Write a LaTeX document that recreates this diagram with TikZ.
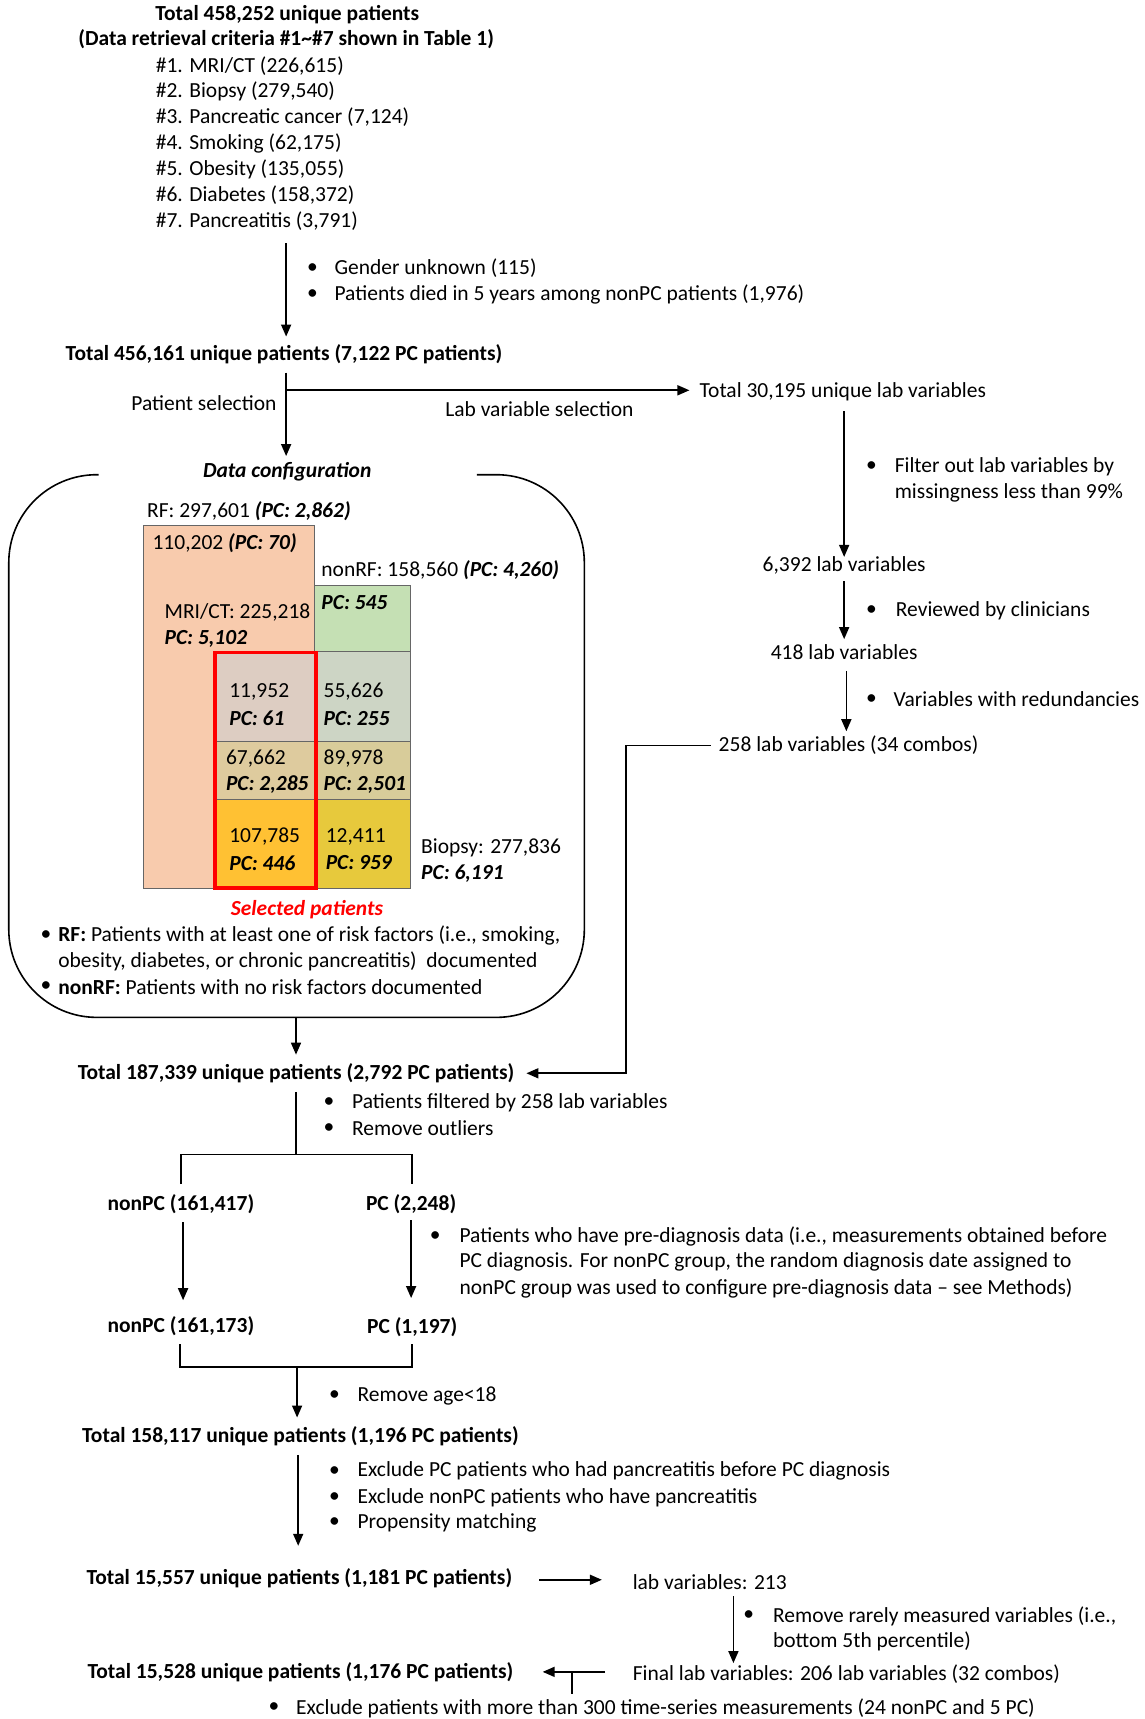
\documentclass[tikz,border=0pt]{standalone}
\usepackage{fontspec}
\setmainfont{Carlito}
\usetikzlibrary{arrows.meta}
\definecolor{salmon}{HTML}{F8CBAD}
\definecolor{lgreen}{HTML}{C5E0B4}
\definecolor{r1l}{HTML}{DDCDC2}
\definecolor{r1r}{HTML}{CDD5C5}
\definecolor{r2l}{HTML}{DECB9E}
\definecolor{r2r}{HTML}{D8CC9A}
\definecolor{r3l}{HTML}{FFC133}
\definecolor{r3r}{HTML}{E7C93C}
\definecolor{selred}{HTML}{FF0000}
\newcommand{\fs}{\fontsize{21.5}{26}\selectfont}
\begin{document}
\begin{tikzpicture}[x=1.0968pt,y=-1.0968pt,
  txt/.style={inner sep=0pt, font=\fs},
  lt/.style={txt, anchor=west},
  bt/.style={inner sep=0pt, font=\fs\bfseries},
  bi/.style={inner sep=0pt, anchor=west, font=\fs\bfseries\itshape},
  ln/.style={line width=1.6pt},
  arr/.style={line width=1.6pt, -{Triangle[length=12pt,width=10pt]}},
  cell/.style={draw=black!60, line width=0.8pt}
]
\useasboundingbox (0,0) rectangle (1044,1568);
\fill[white] (0,0) rectangle (1044,1568);

% ---------- top ----------
\node[bt] (t1) at (262,13) {Total 458,252 unique patients};
\node[bt] (t1b) at (261,36) {(Data retrieval criteria \#1\textasciitilde\#7 shown in Table 1)};
\foreach \t [count=\i] in {{\#1. MRI/CT (226,615)},{\#2. Biopsy (279,540)},{\#3. Pancreatic cancer (7,124)},{\#4. Smoking (62,175)},{\#5. Obesity (135,055)},{\#6. Diabetes (158,372)},{\#7. Pancreatitis (3,791)}}
  \node[lt] (crit\i) at (142,{60+23.6*(\i-1)}) {\t};

\coordinate (a1s) at (261,222);
\coordinate (a1e) at (261,307);
\draw[arr] (a1s) -- (a1e);
\node[txt] (b1a) at (285,245) {•};
\node[lt] (b1at) at (305,245) {Gender unknown (115)};
\node[txt] (b1b) at (285,269) {•};
\node[lt] (b1bt) at (305,269) {Patients died in 5 years among nonPC patients (1,976)};

\node[bt] (t2) at (259,323) {Total 456,161 unique patients (7,122 PC patients)};

% split
\coordinate (s0) at (261,340);
\coordinate (split) at (261,356);
\coordinate (s1) at (261,416);
\draw[arr] (s0) -- (s1);
\node[lt] (lab1) at (638,357) {Total 30,195 unique lab variables};
\draw[arr] (split) -- ([xshift=-10pt]lab1.west |- split);
\node[txt] (psel) at (186,368) {Patient selection};
\node[txt] (lsel) at (492,373) {Lab variable selection};

% ---------- data configuration box ----------
\node[inner sep=0pt, font=\fs\bfseries\itshape] (dcfg) at (262,430) {Data configuration};
\draw[ln, rounded corners=88pt] (90,433) -- (8,433) -- (8,928) -- (533,928) -- (533,433) -- (435,433);

\node[lt] (rf) at (134,466) {RF: 297,601 \textbf{\textit{(PC: 2,862)}}};
\fill[salmon] (131,479) rectangle (287,810);
\draw[cell] (131,479) rectangle (287,810);
\node[lt] (rf0) at (139,495) {110,202 \textbf{\textit{(PC: 70)}}};
\node[lt] (nrf) at (293,520) {nonRF: 158,560 \textbf{\textit{(PC: 4,260)}}};
\fill[lgreen] (287,534) rectangle (374,594);
\draw[cell] (287,534) rectangle (374,594);
\node[bi] (pc545) at (293,550) {PC: 545};
\node[lt] (mri) at (150,559) {MRI/CT: 225,218};
\node[bi] (mripc) at (150,583) {PC: 5,102};

\fill[r1l] (195,594) rectangle (287,676);
\fill[r1r] (287,594) rectangle (374,676);
\fill[r2l] (195,676) rectangle (287,729);
\fill[r2r] (287,676) rectangle (374,729);
\fill[r3l] (195,729) rectangle (287,810);
\fill[r3r] (287,729) rectangle (374,810);
\draw[cell] (195,594) rectangle (374,810);
\draw[cell] (195,676) -- (374,676);
\draw[cell] (195,729) -- (374,729);
\draw[cell] (287,594) -- (287,810);

\node[lt] (c11) at (209,631) {11,952};
\node[bi] (c11p) at (209,655) {PC: 61};
\node[lt] (c12) at (295,631) {55,626};
\node[bi] (c12p) at (295,655) {PC: 255};
\node[lt] (c21) at (206,692) {67,662};
\node[bi] (c21p) at (206,716) {PC: 2,285};
\node[lt] (c22) at (295,692) {89,978};
\node[bi] (c22p) at (295,716) {PC: 2,501};
\node[lt] (c31) at (209,763) {107,785};
\node[bi] (c31p) at (209,787) {PC: 446};
\node[lt] (c32) at (297,763) {12,411};
\node[bi] (c32p) at (297,787) {PC: 959};

\draw[selred, line width=3.6pt] (196,595) rectangle (288,810);

\node[lt] (bio) at (384,773) {Biopsy: 277,836};
\node[bi] (biopc) at (384,797) {PC: 6,191};

\node[inner sep=0pt, text=selred, font=\fs\bfseries\itshape] (selp) at (280,830) {Selected patients};

\node[txt] (lg1) at (42,853) {•};
\node[lt] (lg1t) at (53,853) {\textbf{RF:} Patients with at least one of risk factors (i.e., smoking,};
\node[lt] (lg1u) at (53,877) {obesity, diabetes, or chronic pancreatitis)\ \ documented};
\node[txt] (lg2) at (42,900) {•};
\node[lt] (lg2t) at (53,900) {\textbf{nonRF:} Patients with no risk factors documented};

% ---------- lab variable chain ----------
\coordinate (l1s) at (770,375);
\coordinate (l1e) at (770,508);
\draw[arr] (l1s) -- (l1e);
\node[txt] (lb1) at (795,426) {•};
\node[lt] (lb1t) at (816,426) {Filter out lab variables by};
\node[lt] (lb1u) at (816,450) {missingness less than 99\%};
\node[txt] (lab2) at (770,516) {6,392 lab variables};
\coordinate (l2s) at (770,530);
\coordinate (l2e) at (770,583);
\draw[arr] (l2s) -- (l2e);
\node[txt] (lb2) at (795,557) {•};
\node[lt] (lb2t) at (817,557) {Reviewed by clinicians};
\node[txt] (lab3) at (770,595) {418 lab variables};
\coordinate (l3s) at (772,612);
\coordinate (l3e) at (772,667);
\draw[arr] (l3s) -- (l3e);
\node[txt] (lb3) at (795,638) {•};
\node[lt] (lb3t) at (815,638) {Variables with redundancies};
\node[txt] (lab4) at (774,680) {258 lab variables (34 combos)};

% ---------- merge ----------
\coordinate (m0) at (270,928);
\coordinate (m1) at (270,962);
\draw[arr] (m0) -- (m1);
\node[bt] (t3) at (270,979) {Total 187,339 unique patients (2,792 PC patients)};
\coordinate (k1) at (571,680);
\coordinate (k2) at (571,979);
\draw[arr] ([xshift=-8pt]lab4.west) -- (k1) -- (k2) -- ([xshift=12pt]t3.east |- k2);

% ---------- branch ----------
\coordinate (b0) at (270,996);
\coordinate (bj) at (270,1053);
\coordinate (bl) at (165,1053);
\coordinate (br) at (376,1053);
\coordinate (bl2) at (165,1080);
\coordinate (br2) at (376,1080);
\draw[ln] (b0) -- (bj);
\draw[ln] (bl2) -- (bl) -- (br) -- (br2);
\node[txt] (fb1) at (300,1006) {•};
\node[lt] (fb1t) at (321,1006) {Patients filtered by 258 lab variables};
\node[txt] (fb2) at (300,1029) {•};
\node[lt] (fb2t) at (321,1029) {Remove outliers};

\node[bt] (np1) at (165,1098) {nonPC (161,417)};
\node[bt] (pc1) at (375,1098) {PC (2,248)};
\coordinate (n1s) at (167,1115);
\coordinate (n1e) at (167,1186);
\coordinate (p1s) at (375,1113);
\coordinate (p1e) at (375,1184);
\draw[arr] (n1s) -- (n1e);
\draw[arr] (p1s) -- (p1e);
\node[txt] (pb) at (397,1128) {•};
\node[lt] (pbt1) at (419,1128) {Patients who have pre-diagnosis data (i.e., measurements obtained before};
\node[lt] (pbt2) at (419,1151) {PC diagnosis. For nonPC group, the random diagnosis date assigned to};
\node[lt] (pbt3) at (419,1175) {nonPC group was used to configure pre-diagnosis data -- see Methods)};
\node[bt] (np2) at (165,1210) {nonPC (161,173)};
\node[bt] (pc2) at (376,1211) {PC (1,197)};

\coordinate (j1) at (164,1226);
\coordinate (j2) at (164,1247);
\coordinate (j3) at (376,1247);
\coordinate (j4) at (376,1226);
\draw[ln] (j1) -- (j2) -- (j3) -- (j4);
\coordinate (j5) at (271,1247);
\coordinate (j6) at (271,1293);
\draw[arr] (j5) -- (j6);
\node[txt] (ab) at (305,1273) {•};
\node[lt] (abt) at (326,1273) {Remove age<18};

\node[bt] (t4) at (274,1310) {Total 158,117 unique patients (1,196 PC patients)};
\coordinate (e0) at (272,1327);
\coordinate (e1) at (272,1410);
\draw[arr] (e0) -- (e1);
\node[txt] (eb1) at (305,1342) {•};
\node[lt] (eb1t) at (326,1342) {Exclude PC patients who had pancreatitis before PC diagnosis};
\node[txt] (eb2) at (305,1366) {•};
\node[lt] (eb2t) at (326,1366) {Exclude nonPC patients who have pancreatitis};
\node[txt] (eb3) at (305,1389) {•};
\node[lt] (eb3t) at (326,1389) {Propensity matching};

\node[bt] (t5) at (273,1440) {Total 15,557 unique patients (1,181 PC patients)};
\node[lt] (lab5) at (577,1443) {lab variables: 213};
\coordinate (h0) at (492,1441);
\coordinate (h1) at (549,1441);
\draw[arr] (h0) -- (h1);
\coordinate (v0) at (669,1456);
\coordinate (v1) at (669,1517);
\draw[arr] (v0) -- (v1);
\node[txt] (rb) at (683,1474) {•};
\node[lt] (rbt1) at (705,1474) {Remove rarely measured variables (i.e.,};
\node[lt] (rbt2) at (705,1497) {bottom 5th percentile)};
\node[lt] (lab6) at (577,1527) {Final lab variables: 206 lab variables (32 combos)};

\node[bt] (t6) at (274,1525) {Total 15,528 unique patients (1,176 PC patients)};
\coordinate (g0) at (552,1525);
\coordinate (g1) at (495,1525);
\draw[arr] (g0) -- (g1);
\coordinate (g2) at (522,1525);
\coordinate (g3) at (522,1545);
\draw[ln] (g2) -- (g3);
\node[txt] (xb) at (250,1558) {•};
\node[lt] (xbt) at (270,1558) {Exclude patients with more than 300 time-series measurements (24 nonPC and 5 PC)};
\end{tikzpicture}
\end{document}
